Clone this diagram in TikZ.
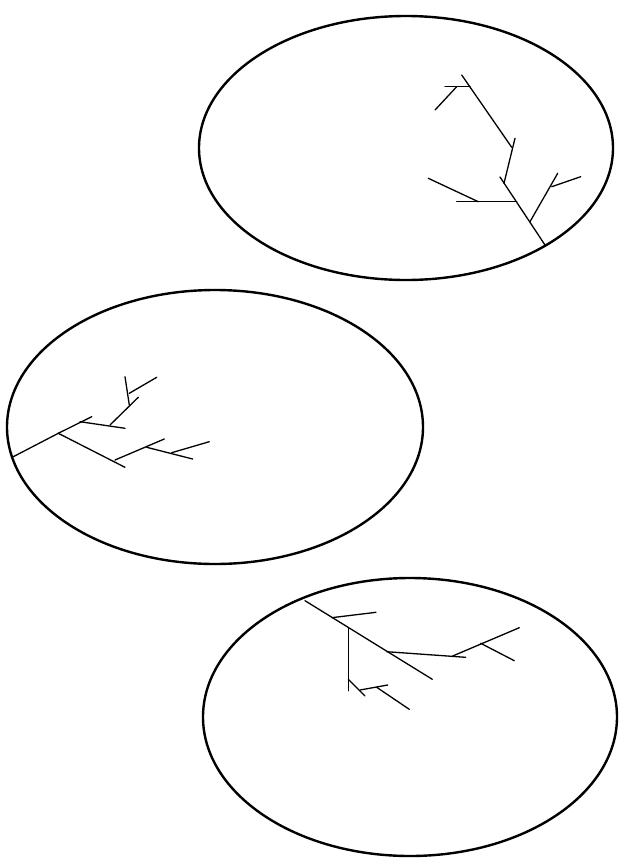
\documentclass[tikz,border=0pt]{standalone}
\usepackage{tikz}
\usetikzlibrary{calc}
\tikzset{
  %% Outline of an oval
  oval/.style={draw=black, line width=2.4pt},
  %% Twig of a tree
  twig/.style={draw=black, line width=1.3pt, line cap=round},
}

\begin{document}
\begin{tikzpicture}[x=1pt, y=-1pt]

  \useasboundingbox (0,0) rectangle (621,863);

  %% Upper oval with its tree
  \draw[oval] (406,148) ellipse [x radius=207, y radius=132];
  \foreach \a/\b/\c/\d in {545/245/500/177, 516.7/201.7/456.7/201.7,
      478.3/201.7/428.3/178.3, 530/221.7/557.7/173.3,
      551.7/186.7/580.7/176.7, 504/183.3/515/138.3,
      511.7/147.3/461.7/75, 470/86.7/445/86.7, 456.7/86.7/435/110}
    \draw[twig] (\a,\b) -- (\c,\d);

  %% Middle oval with its tree
  \draw[oval] (215,427) ellipse [x radius=208, y radius=137];
  \foreach \a/\b/\c/\d in {13.3/456.7/58.3/433.3, 58.3/433.3/91.7/416.7,
      80/421.7/125/428.3, 110/425/138.3/397.3, 129.3/405/125/376.7,
      129.3/393.3/156.7/377.3, 58.3/433.3/125/467.3,
      115/460/164.3/439, 146.7/447.3/192.7/459, 171.7/452.7/209.3/441.7}
    \draw[twig] (\a,\b) -- (\c,\d);

  %% Lower oval with its tree
  \draw[oval] (410,717) ellipse [x radius=207, y radius=139];
  \foreach \a/\b/\c/\d in {305/600.7/432.3/679.3, 331.7/617.7/376/612.3,
      348.3/628.3/348.3/690.7, 386.7/651.7/465.7/657.3,
      452.7/656/519.3/627.7, 480.7/643.3/514.3/660.7,
      348.3/679.3/365/696, 360/690/387.7/685, 376.7/687.3/409.3/709.3}
    \draw[twig] (\a,\b) -- (\c,\d);

\end{tikzpicture}
\end{document}
